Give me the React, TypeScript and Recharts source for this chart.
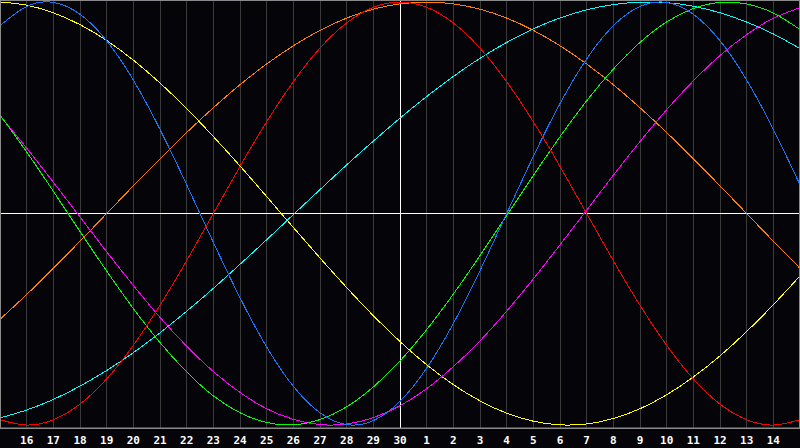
import { LineChart, Line, XAxis, YAxis, CartesianGrid, ReferenceLine } from 'recharts'

const days = ['15', '16', '17', '18', '19', '20', '21', '22', '23', '24', '25', '26', '27', '28', '29', '30',
  '1', '2', '3', '4', '5', '6', '7', '8', '9', '10', '11', '12', '13', '14', '15']

const physical = [0.888, 0.979, 0.998, 0.942, 0.817, 0.631, 0.398, 0.136, -0.136, -0.398, -0.631, -0.817, -0.942, -0.998, -0.979, -0.888, -0.731, -0.52, -0.27, 0, 0.27, 0.52, 0.731, 0.888, 0.979, 0.998, 0.942, 0.817, 0.631, 0.398, 0.136]
const emotional = [-0.975, -1, -0.975, -0.901, -0.782, -0.623, -0.434, -0.223, 0, 0.223, 0.434, 0.623, 0.782, 0.901, 0.975, 1, 0.975, 0.901, 0.782, 0.623, 0.434, 0.223, 0, -0.223, -0.434, -0.623, -0.782, -0.901, -0.975, -1, -0.975]
const intellectual = [0.466, 0.291, 0.105, -0.085, -0.272, -0.449, -0.61, -0.749, -0.862, -0.942, -0.988, -0.999, -0.974, -0.914, -0.82, -0.697, -0.549, -0.381, -0.199, -0.009, 0.18, 0.363, 0.533, 0.683, 0.809, 0.906, 0.969, 0.998, 0.991, 0.948, 0.87]
const intuitive = [0.462, 0.309, 0.148, -0.016, -0.181, -0.34, -0.491, -0.627, -0.747, -0.846, -0.923, -0.973, -0.998, -0.995, -0.965, -0.909, -0.828, -0.724, -0.602, -0.462, -0.309, -0.148, 0.016, 0.181, 0.34, 0.491, 0.627, 0.747, 0.846, 0.923, 0.973]
const aesthetic = [1.0, 0.985, 0.949, 0.893, 0.818, 0.725, 0.617, 0.496, 0.364, 0.225, 0.08, -0.066, -0.21, -0.35, -0.483, -0.605, -0.715, -0.809, -0.886, -0.944, -0.982, -0.999, -0.995, -0.969, -0.923, -0.857, -0.773, -0.673, -0.558, -0.431, -0.295]
const awareness = [-0.5, -0.383, -0.259, -0.131, 0, 0.131, 0.259, 0.383, 0.5, 0.609, 0.707, 0.793, 0.866, 0.924, 0.966, 0.991, 1, 0.991, 0.966, 0.924, 0.866, 0.793, 0.707, 0.609, 0.5, 0.383, 0.259, 0.131, 0, -0.131, -0.259]
const spiritual = [-0.966, -0.929, -0.879, -0.816, -0.742, -0.658, -0.564, -0.462, -0.354, -0.24, -0.124, -0.005, 0.113, 0.23, 0.342, 0.451, 0.553, 0.648, 0.734, 0.809, 0.873, 0.925, 0.963, 0.988, 0.999, 0.997, 0.98, 0.949, 0.905, 0.849, 0.78]

const data = days.map((day, i) => ({
  i, day,
  physical: physical[i], emotional: emotional[i], intellectual: intellectual[i],
  intuitive: intuitive[i], aesthetic: aesthetic[i], awareness: awareness[i], spiritual: spiritual[i],
}))

const tickIdx = days.map((_, i) => i).filter(i => i > 0 && i < days.length - 1)
const todayIdx = days.indexOf('30')

const series = [
  { key: 'awareness', color: '#ff8000' },
  { key: 'spiritual', color: '#00ffff' },
  { key: 'aesthetic', color: '#ffff00' },
  { key: 'intuitive', color: '#ff00ff' },
  { key: 'intellectual', color: '#00ff00' },
  { key: 'physical', color: '#1478ff' },
  { key: 'emotional', color: '#ff0000' },
]

export default function App() {
  return (
    <div style={{ position: 'absolute', left: 0, top: 0, width: 800, height: 448, background: '#050408' }}>
      <LineChart width={800} height={448} data={data} margin={{ top: 0, right: 0, bottom: 0, left: 0 }}>
        <CartesianGrid horizontal={false} stroke="#3a3a3a" shapeRendering="crispEdges" />
        <XAxis
          type="number" dataKey="i" domain={[0, 30]} ticks={tickIdx} interval={0} height={20}
          tickFormatter={(v: number) => days[v]} tickLine={false}
          axisLine={{ stroke: '#8a8a8a' }}
          tick={{ fill: '#ffffff', fontSize: 11, fontWeight: 'bold', fontFamily: 'DejaVu Sans Mono' }}
        />
        <YAxis hide domain={[-1.014, 1.0095]} allowDataOverflow />
        <ReferenceLine x={todayIdx} stroke="#ffffff" shapeRendering="crispEdges" />
        <ReferenceLine y={0} stroke="#ffffff" shapeRendering="crispEdges" />
        {series.map(s => (
          <Line key={s.key} type="natural" dataKey={s.key} stroke={s.color} strokeWidth={1}
            shapeRendering="crispEdges" dot={false} activeDot={false} isAnimationActive={false} />
        ))}
      </LineChart>
      <div style={{ position: 'absolute', left: 0, top: 0, width: 800, height: 429, boxSizing: 'border-box', border: '1px solid #8a8a8a', pointerEvents: 'none' }} />
    </div>
  )
}
